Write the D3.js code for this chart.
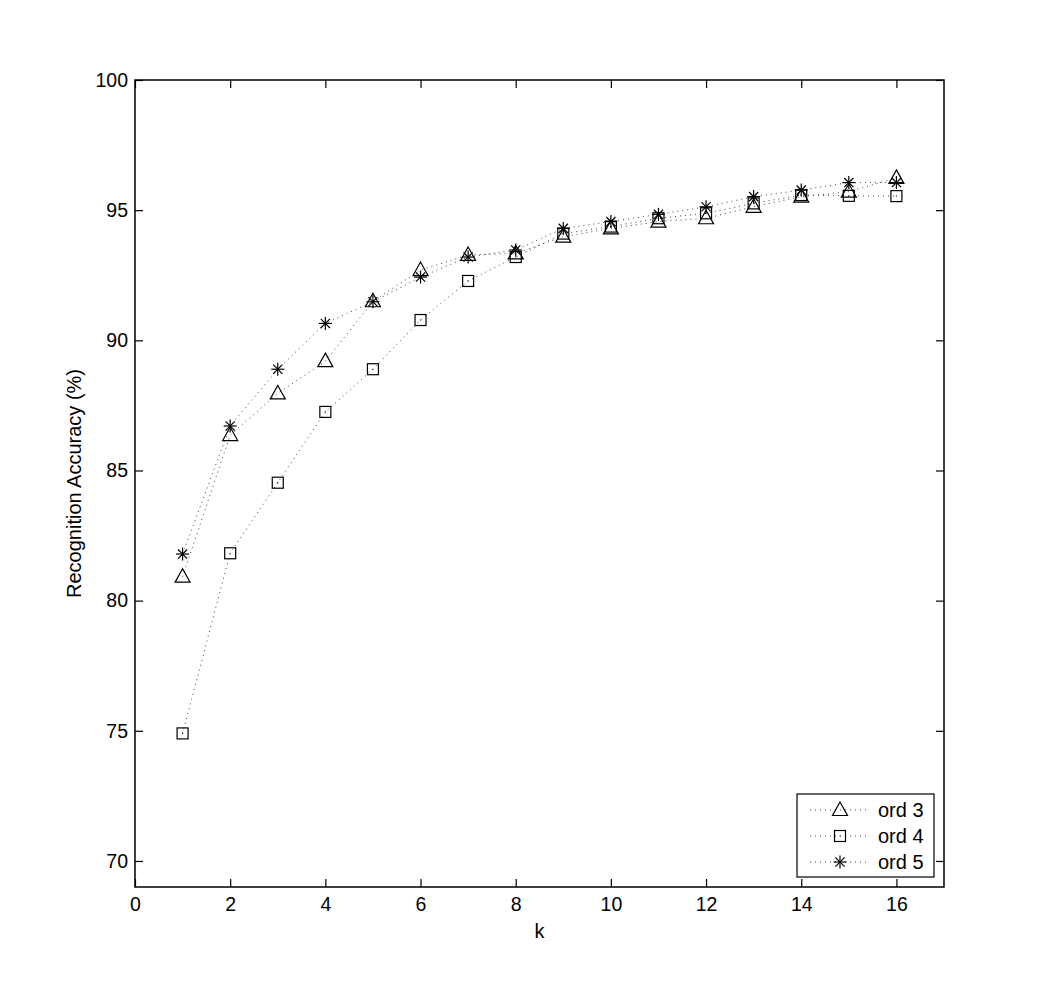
<!DOCTYPE html>
<html>
<head>
<meta charset="utf-8">
<script src="https://cdn.jsdelivr.net/npm/d3@7"></script>
<style>
  body { margin: 0; background: #fff; }
  text { font-family: "Liberation Sans", Arial, sans-serif; }
</style>
</head>
<body>
<div id="chart"></div>
<script>
const width = 1042;
const height = 1005;

// data
const kValues = [1, 2, 3, 4, 5, 6, 7, 8, 9, 10, 11, 12, 13, 14, 15, 16];
const ord3 = [80.92, 86.36, 87.96, 89.2, 91.5, 92.7, 93.28, 93.34, 93.98, 94.3, 94.56, 94.69, 95.13, 95.52, 95.71, 96.24];
const ord4 = [74.9, 81.82, 84.53, 87.25, 88.89, 90.78, 92.28, 93.2, 94.1, 94.37, 94.69, 94.88, 95.26, 95.58, 95.55, 95.54];
const ord5 = [81.79, 86.71, 88.89, 90.65, 91.48, 92.43, 93.2, 93.47, 94.3, 94.56, 94.84, 95.13, 95.52, 95.77, 96.06, 96.06];
const seriesNames = ["ord 3", "ord 4", "ord 5"];
const xTicks = [0, 2, 4, 6, 8, 10, 12, 14, 16];
const yTicks = [70, 75, 80, 85, 90, 95, 100];

const margin = { left: 135, top: 80, right: 98, bottom: 118 };

const x = d3.scaleLinear().domain([0, 17]).range([margin.left, width - margin.right]);
const y = d3.scaleLinear().domain([69, 100]).range([height - margin.bottom, margin.top]);

const svg = d3.select("#chart")
    .append("svg")
    .attr("width", width)
    .attr("height", height);

// axes (ticks inward on all sides, matlab style)
const tickLen = 8;
const fontSize = 19.5;

svg.append("g")
    .attr("transform", `translate(0,${y.range()[0]})`)
    .call(d3.axisBottom(x).tickValues(xTicks).tickSize(-tickLen).tickPadding(10).tickSizeOuter(0))
    .call(g => g.select(".domain").remove());

svg.append("g")
    .attr("transform", `translate(0,${y.range()[1]})`)
    .call(d3.axisTop(x).tickValues(xTicks).tickSize(-tickLen).tickFormat("").tickSizeOuter(0))
    .call(g => g.select(".domain").remove());

svg.append("g")
    .attr("transform", `translate(${x.range()[0]},0)`)
    .call(d3.axisLeft(y).tickValues(yTicks).tickSize(-tickLen).tickPadding(7).tickSizeOuter(0))
    .call(g => g.select(".domain").remove());

svg.append("g")
    .attr("transform", `translate(${x.range()[1]},0)`)
    .call(d3.axisRight(y).tickValues(yTicks).tickSize(-tickLen).tickFormat("").tickSizeOuter(0))
    .call(g => g.select(".domain").remove());

svg.selectAll(".tick line").attr("stroke", "#000").attr("stroke-width", 1.2);
svg.selectAll(".tick text")
    .attr("fill", "#000")
    .style("font-size", fontSize + "px")
    .style("font-family", "'Liberation Sans', Arial, sans-serif");

// frame
svg.append("rect")
    .attr("x", x.range()[0])
    .attr("y", y.range()[1])
    .attr("width", x.range()[1] - x.range()[0])
    .attr("height", y.range()[0] - y.range()[1])
    .attr("fill", "none")
    .attr("stroke", "#000")
    .attr("stroke-width", 1.5);

// axis labels
svg.append("text")
    .attr("x", (x.range()[0] + x.range()[1]) / 2)
    .attr("y", 938)
    .attr("text-anchor", "middle")
    .style("font-size", "20px")
    .text("k");

svg.append("text")
    .attr("transform", `translate(81,${(y.range()[0] + y.range()[1]) / 2}) rotate(-90)`)
    .attr("text-anchor", "middle")
    .style("font-size", "20px")
    .text("Recognition Accuracy (%)");

// markers
function drawMarker(g, type) {
    if (type === 0) {
        g.append("path")
            .attr("d", "M0,-8 L7.5,5.5 L-7.5,5.5 Z")
            .attr("fill", "none").attr("stroke", "#000").attr("stroke-width", 1.2);
    } else if (type === 1) {
        g.append("rect")
            .attr("x", -5.5).attr("y", -5.5).attr("width", 11).attr("height", 11)
            .attr("fill", "none").attr("stroke", "#000").attr("stroke-width", 1.2);
        g.append("circle").attr("r", 0.6).attr("fill", "#000");
    } else {
        const r = 6.5;
        [0, 45, 90, 135].forEach(a => {
            const rad = a * Math.PI / 180;
            g.append("line")
                .attr("x1", -r * Math.cos(rad)).attr("y1", -r * Math.sin(rad))
                .attr("x2", r * Math.cos(rad)).attr("y2", r * Math.sin(rad))
                .attr("stroke", "#000").attr("stroke-width", 1.2);
        });
    }
}

const allSeries = [ord3, ord4, ord5];
const line = d3.line()
    .x((d, i) => x(kValues[i]))
    .y(d => y(d));

allSeries.forEach((vals, si) => {
    svg.append("path")
        .datum(vals)
        .attr("d", line)
        .attr("fill", "none")
        .attr("stroke", "#444")
        .attr("stroke-width", 1)
        .attr("stroke-dasharray", "1,4");
});

allSeries.forEach((vals, si) => {
    vals.forEach((v, i) => {
        const g = svg.append("g").attr("transform", `translate(${x(kValues[i])},${y(v)})`);
        drawMarker(g, si);
    });
});

// legend
const legend = svg.append("g").attr("transform", "translate(797,794)");
legend.append("rect")
    .attr("width", 137).attr("height", 83)
    .attr("fill", "#fff").attr("stroke", "#000").attr("stroke-width", 1.2);

seriesNames.forEach((name, i) => {
    const rowY = 16 + i * 26;
    legend.append("line")
        .attr("x1", 13).attr("x2", 73)
        .attr("y1", rowY).attr("y2", rowY)
        .attr("stroke", "#444").attr("stroke-width", 1)
        .attr("stroke-dasharray", "1,4");
    const mg = legend.append("g").attr("transform", `translate(43,${rowY})`);
    drawMarker(mg, i);
    legend.append("text")
        .attr("x", 81).attr("y", rowY + 7)
        .style("font-size", "20px")
        .text(name);
});
</script>
</body>
</html>
